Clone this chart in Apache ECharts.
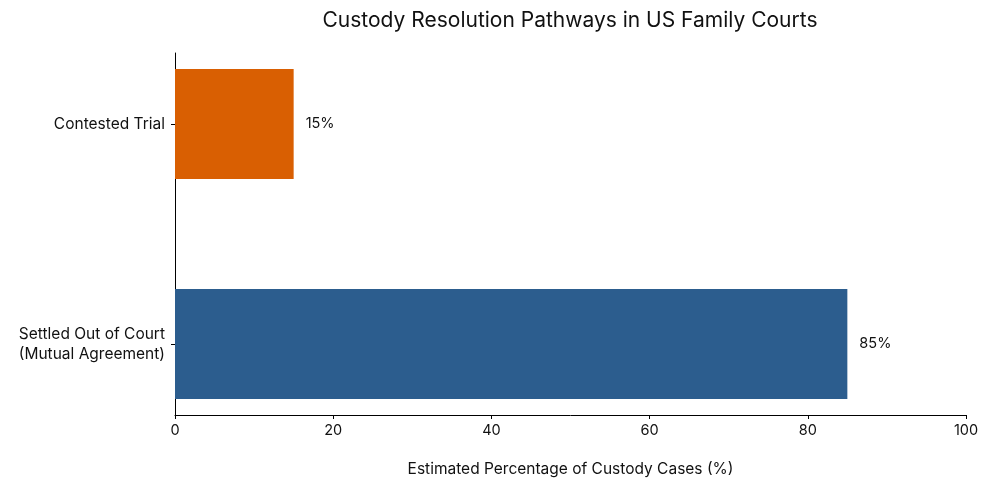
<!DOCTYPE html>
<html>
<head>
<meta charset="utf-8">
<script src="https://cdn.jsdelivr.net/npm/echarts@6/dist/echarts.min.js"></script>
<style>
  html, body { margin: 0; padding: 0; background: #fff; }
  #main { width: 989px; height: 489px; }
</style>
</head>
<body>
<div id="main"></div>
<script>
var categories = ['Settled Out of Court\n(Mutual Agreement)', 'Contested Trial'];
var values = [85, 15];
var barColors = ['#2c5d8e', '#d95f02'];
var xTicks = [0, 20, 40, 60, 80, 100];

var FONT = 'Inter';
var chart = echarts.init(document.getElementById('main'));

var option = {
    animation: false,
    textStyle: { fontFamily: FONT, color: '#111' },
    title: {
        text: 'Custody Resolution Pathways in US Family Courts',
        left: 565,
        textAlign: 'center',
        top: 5,
        textStyle: { fontFamily: FONT, fontSize: 21, fontWeight: 'normal', color: '#111' }
    },
    grid: [
        // bars
        { left: 175, right: 23, top: 14, bottom: 35 },
        // visible frame
        { left: 175, right: 23, top: 53, bottom: 74 }
    ],
    xAxis: [
        { gridIndex: 0, type: 'value', min: 0, max: 100, show: false },
        {
            gridIndex: 1, type: 'value', min: 0, max: 100, interval: 20,
            name: 'Estimated Percentage of Custody Cases (%)',
            nameLocation: 'middle',
            nameGap: 46,
            nameTextStyle: { fontFamily: FONT, fontSize: 15.5, color: '#111' },
            axisLine: { show: true, lineStyle: { color: '#000', width: 1 } },
            axisTick: { show: true, length: 4, lineStyle: { color: '#000' } },
            axisLabel: {
                fontFamily: FONT, fontSize: 14.5, color: '#111', margin: 8,
                formatter: function (v) { return xTicks.indexOf(v) >= 0 ? String(v) : ''; }
            },
            splitLine: { show: false }
        }
    ],
    yAxis: [
        {
            gridIndex: 0, type: 'category', data: categories,
            axisLine: { show: false },
            axisTick: { show: true, alignWithLabel: true, length: 4, lineStyle: { color: '#000' } },
            axisLabel: {
                fontFamily: FONT, fontSize: 15.5, color: '#111', margin: 10,
                lineHeight: 20, align: 'right'
            }
        },
        {
            gridIndex: 1, type: 'value', min: 0, max: 1,
            axisLine: { show: true, lineStyle: { color: '#000', width: 1 } },
            axisTick: { show: false },
            axisLabel: { show: false },
            splitLine: { show: false }
        }
    ],
    series: [
        {
            type: 'bar',
            xAxisIndex: 0,
            yAxisIndex: 0,
            barWidth: 110,
            data: values.map(function (v, i) {
                return { value: v, itemStyle: { color: barColors[i] } };
            }),
            label: {
                show: true,
                position: 'right',
                distance: 12,
                fontFamily: FONT,
                fontSize: 14.5,
                color: '#111',
                formatter: '{c}%'
            }
        }
    ]
};

chart.setOption(option);
</script>
</body>
</html>
